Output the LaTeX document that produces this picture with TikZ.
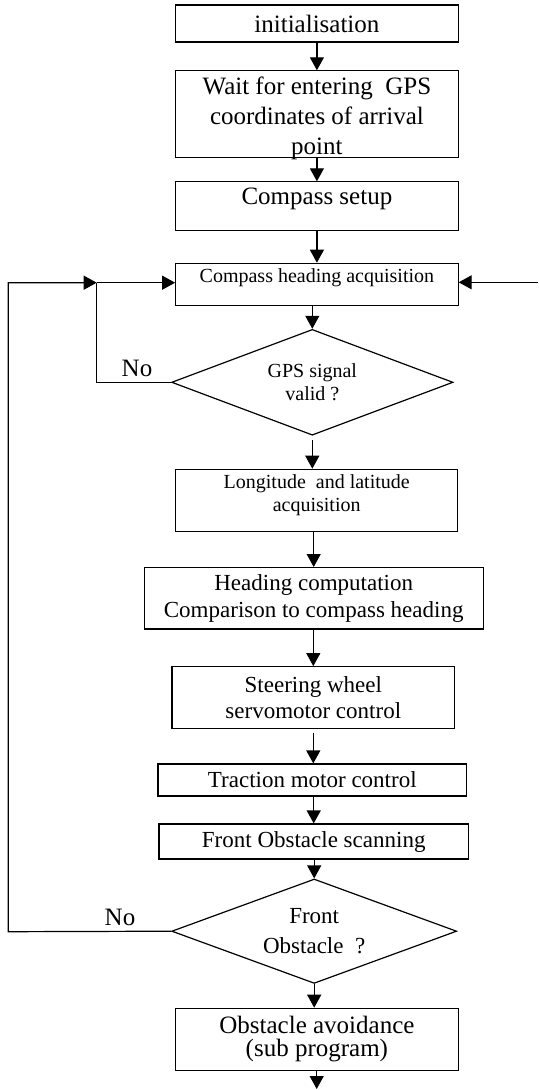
\documentclass[tikz,border=0pt]{standalone}
\usepackage{fontspec}
\setmainfont{Liberation Serif}
\usetikzlibrary{shapes.geometric,arrows.meta}

\begin{document}
\begin{tikzpicture}
	[x=0.5pt,y=-0.5pt,
	box/.style={draw,line width=0.6pt,rectangle,inner sep=0pt,align=center,minimum width=141.2pt},
	decision/.style={draw,line width=0.6pt,diamond,aspect=2.7,inner sep=0pt,align=center},
	big/.style={font=\fontsize{12.5}{15}\selectfont},
	mid/.style={font=\fontsize{11.5}{13.3}\selectfont},
	small/.style={font=\fontsize{10}{11.5}\selectfont},
	flow/.style={line width=0.6pt,-{Triangle[width=7pt,length=6.5pt]}},
	line/.style={line width=0.6pt}]
	\useasboundingbox (0,0) rectangle (538,1090);
	% steps
	\node[box,big,minimum height=18.5pt] (init) at (316.9,23.5) {initialisation};
	\node[box,big,minimum height=43.4pt,text height=40.5pt,text depth=0pt] (wait) at (316.9,114.3)
		{Wait for entering~ GPS\\coordinates of arrival\\point};
	\node[box,big,minimum height=24.4pt,text depth=10pt] (setup) at (316.9,206.3) {Compass setup};
	\node[box,small,minimum height=21.2pt,text depth=8.5pt] (cha) at (316.9,284.5) {Compass heading acquisition};
	\node[decision,small,minimum width=140.7pt,minimum height=52.9pt] (gps) at (312.3,382.3) {GPS signal\\valid ?};
	\node[box,small,minimum width=141pt,minimum height=30.9pt,text depth=7.6pt] (lonlat) at (316.7,500.2)
		{Longitude~ and latitude\\acquisition};
	\node[box,mid,minimum width=169.4pt,minimum height=30.7pt] (heading) at (313.7,598.3)
		{Heading computation\\Comparison to compass heading};
	\node[box,mid,minimum width=141.4pt,minimum height=30.8pt] (steer) at (313.3,697.5)
		{Steering wheel\\servomotor control};
	\node[box,mid,minimum width=154.4pt,minimum height=16pt] (traction) at (312.3,780) {Traction motor control};
	\node[box,mid,minimum width=154.7pt,minimum height=17.5pt] (scan) at (313.7,841.5) {Front Obstacle scanning};
	\node[decision,font=\fontsize{11.5}{15}\selectfont,minimum width=142.5pt,minimum height=52.2pt] (front) at (314.2,931.2)
		{Front\\Obstacle~~?};
	\node[box,font=\fontsize{12.5}{11.6}\selectfont,minimum height=30.9pt] (avoid) at (316.9,1039.2)
		{Obstacle avoidance\\(sub program)};
	\node[big,anchor=base,inner sep=0pt] (no1) at (137,376.7) {No};
	\node[big,anchor=base,inner sep=0pt] (no2) at (120,925) {No};
	% ends of the loops
	\coordinate (jn) at (96.7,282.7);
	\coordinate (lft) at (8.3,931.7);
	\coordinate (rin) at (538,282.3);
	\coordinate (end) at (316.7,1089);
	% arrows
	\draw[flow] (init) -- (wait);
	\draw[flow] (wait) -- (setup);
	\draw[flow] (setup) -- (cha);
	\draw[flow] (gps.north |- cha.south) -- (gps.north);
	\draw[flow,shorten <=2pt] (gps.south) -- (gps.south |- lonlat.north);
	\draw[flow] (heading.north |- lonlat.south) -- (heading.north);
	\draw[flow] (steer.north |- heading.south) -- (steer.north);
	\draw[flow,shorten <=2pt] (steer.south) -- (steer.south |- traction.north);
	\draw[flow] (scan.north |- traction.south) -- (scan.north);
	\draw[flow] (front.north |- scan.south) -- (front.north);
	\draw[flow] (front.south) -- (front.south |- avoid.north);
	\draw[flow] (end |- avoid.south) -- (end);
	\draw[line] (gps.west) -- (gps.west -| jn) -- (jn);
	\draw[flow] (front.west) -- (lft) |- (jn);
	\draw[flow] (jn) -- (jn -| cha.west);
	\draw[flow] (rin) -- (rin -| cha.east);
\end{tikzpicture}
\end{document}
